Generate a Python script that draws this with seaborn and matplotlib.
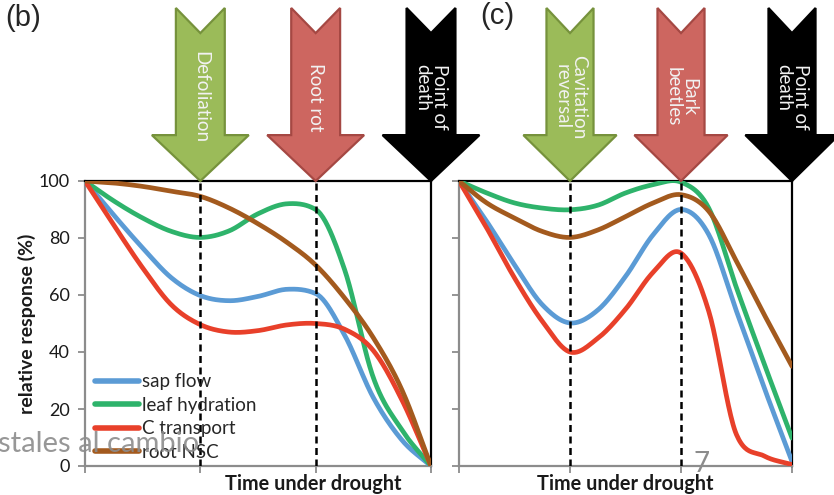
import numpy as np
import pandas as pd
import matplotlib
matplotlib.use("Agg")
import matplotlib.pyplot as plt
from matplotlib.patches import Polygon
import seaborn as sns

# ---- data -------------------------------------------------------------
time_steps = [0, 0.25, 0.5, 0.75, 1.0, 1.25, 1.5, 1.75, 2.0, 2.25, 2.5, 2.75, 3.0]
series_names = ["sap flow", "leaf hydration", "C transport", "root NSC"]

# panel (b): defoliation, then root rot
b_sap_flow = [100, 88, 76.5, 66, 59.8, 58, 59.5, 62, 60.5, 46, 24, 9, 0]
b_leaf_hydration = [100, 93, 87, 82.3, 80.2, 82.5, 88.5, 92, 90, 69, 31, 12.5, 0]
b_c_transport = [100, 84.5, 69.5, 56.5, 49.6, 47, 47.5, 49.5, 50, 48, 40.5, 23, 0]
b_root_nsc = [100, 99.3, 98.1, 96.4, 94.6, 90.5, 85, 78.5, 70.5, 59, 45, 26.5, 0]

# panel (c): cavitation reversal, then bark beetles
c_sap_flow = [100, 85.8, 70.6, 56.6, 50.2, 54.7, 66.5, 81.2, 90, 81.2, 54.3, 27.4, 1.6]
c_leaf_hydration = [100, 95.8, 92.3, 90.5, 89.9, 91.5, 95.8, 98.7, 99.6, 90.5, 62.5, 35.8, 9.8]
c_c_transport = [100, 83.5, 66, 50.8, 40, 44.8, 55, 68, 74.7, 54.3, 11, 3.5, 0.5]
c_root_nsc = [100, 92.3, 87, 82.3, 80.2, 82.8, 87.5, 92.3, 95.2, 89.4, 71.8, 53.1, 35]

y_ticks = [0, 20, 40, 60, 80, 100]
event_times = [1, 2, 3]
b_events = ["Defoliation", "Root rot", "Point of\ndeath"]
c_events = ["Cavitation\nreversal", "Bark\nbeetles", "Point of\ndeath"]

palette = {"sap flow": "#5B9BD5", "leaf hydration": "#2EB36B",
           "C transport": "#E8402A", "root NSC": "#A35A1E"}
event_styles = [("#9BBB59", "#76923C"), ("#CD6660", "#A54843"), ("#000000", "#000000")]


def smooth_line(x, y, per_seg=24):
    """Catmull-Rom smoothed line, tangents limited on monotone stretches."""
    x = np.asarray(x, float)
    y = np.asarray(y, float)
    h = np.diff(x)
    d = np.diff(y) / h
    m = np.empty_like(y)
    m[0], m[-1] = d[0], d[-1]
    for k in range(1, len(y) - 1):
        m[k] = (y[k + 1] - y[k - 1]) / (x[k + 1] - x[k - 1])
        if d[k - 1] * d[k] > 0:
            lim = 3 * min(abs(d[k - 1]), abs(d[k]))
            m[k] = np.sign(m[k]) * min(abs(m[k]), lim)
    s = np.linspace(0, 1, per_seg, endpoint=False)
    h00 = 2 * s**3 - 3 * s**2 + 1
    h10 = s**3 - 2 * s**2 + s
    h01 = -2 * s**3 + 3 * s**2
    h11 = s**3 - s**2
    xs, ys = [], []
    for k in range(len(x) - 1):
        xs.append(x[k] + s * h[k])
        ys.append(h00 * y[k] + h10 * h[k] * m[k] + h01 * y[k + 1] + h11 * h[k] * m[k + 1])
    xs.append([x[-1]])
    ys.append([y[-1]])
    return np.concatenate(xs), np.concatenate(ys)


def panel_frame(values):
    rows = []
    for name, vals in zip(series_names, values):
        xs, ys = smooth_line(time_steps, vals)
        rows.append(pd.DataFrame({"time": xs, "response": ys, "series": name}))
    return pd.concat(rows, ignore_index=True)


df_b = panel_frame([b_sap_flow, b_leaf_hydration, b_c_transport, b_root_nsc])
df_c = panel_frame([c_sap_flow, c_leaf_hydration, c_c_transport, c_root_nsc])

# ---- figure -----------------------------------------------------------
sns.set_style("white")
plt.rcParams["font.family"] = ["Lato", "DejaVu Sans"]

fig = plt.figure(figsize=(8.34, 4.95), dpi=100)
ax_b = fig.add_axes([85 / 834, 1 - 466 / 495, 346 / 834, 285 / 495])
ax_c = fig.add_axes([459 / 834, 1 - 466 / 495, 333 / 834, 285 / 495])

for ax, df, events, show_legend in ((ax_b, df_b, b_events, True),
                                    (ax_c, df_c, c_events, False)):
    sns.lineplot(data=df, x="time", y="response", hue="series",
                 hue_order=series_names, palette=palette, estimator=None,
                 sort=False, linewidth=3.4, ax=ax, legend=show_legend,
                 zorder=3)
    for line in ax.get_lines():
        line.set_solid_capstyle("round")

    ax.set_xlim(0, 3)
    ax.set_ylim(0, 100)
    ax.set_xticks([0, 1, 2, 3])
    ax.set_xticklabels([])
    ax.set_yticks(y_ticks)
    ax.set_xlabel("")
    ax.set_ylabel("")
    ax.tick_params(axis="both", bottom=True, left=True, direction="out",
                   length=5, width=1.3, color="#8c8c8c", labelsize=13,
                   labelcolor="#1a1a1a", pad=6)
    for side in ("top", "right"):
        ax.spines[side].set_color("black")
        ax.spines[side].set_linewidth(1.6)
    for side in ("left", "bottom"):
        ax.spines[side].set_color("#8c8c8c")
        ax.spines[side].set_linewidth(1.6)

    # dashed markers under the first two events
    ax.vlines(event_times[:2], 0, 100, colors="black", linewidth=1.8,
              linestyles=(0, (2.8, 1.8)), zorder=4)

    # block arrows pointing down at each event
    for t0, label, (face, edge) in zip(event_times, events, event_styles):
        ws, wh = 0.212, 0.42
        top, notch, base, tip = 160.7, 151.9, 116.1, 100
        verts = [(t0 - ws, top), (t0, notch), (t0 + ws, top), (t0 + ws, base),
                 (t0 + wh, base), (t0, tip), (t0 - wh, base), (t0 - ws, base)]
        ax.add_patch(Polygon(verts, closed=True, facecolor=face,
                             edgecolor=edge, linewidth=1.6, clip_on=False,
                             zorder=6, joinstyle="miter"))
        align = "left" if label.startswith("Point") else "center"
        ax.text(t0, 129.5, label, rotation=-90, ha="center", va="center",
                multialignment=align, color="#F2F2F2", fontsize=13.5,
                linespacing=0.95, clip_on=False, zorder=7)

ax_c.set_yticklabels([])

ax_b.text(-0.168, 0.5, "relative response (%)", transform=ax_b.transAxes,
          rotation=90, ha="center", va="center", fontsize=14,
          fontweight="bold", color="#1a1a1a")
ax_b.text(0.659, -0.063, "Time under drought", transform=ax_b.transAxes,
          ha="center", va="center", fontsize=14.3, fontweight="bold",
          color="#1a1a1a")
ax_c.text(0.4985, -0.063, "Time under drought", transform=ax_c.transAxes,
          ha="center", va="center", fontsize=14.3, fontweight="bold",
          color="#1a1a1a")

handles, labels = ax_b.get_legend_handles_labels()
ax_b.legend(handles, labels, loc="lower left", bbox_to_anchor=(0.03, 0.019),
            frameon=False, fontsize=13.5, handlelength=2.35,
            handletextpad=0.15, labelspacing=0.34, borderpad=0,
            borderaxespad=0)
for h in ax_b.get_legend().legend_handles:
    h.set_linewidth(4)

fig.text(5 / 834, 1 - 4 / 495, "(b)", ha="left", va="top", fontsize=21,
         family=["Liberation Sans", "DejaVu Sans"])
fig.text(480 / 834, 1 - 2 / 495, "(c)", ha="left", va="top", fontsize=21,
         family=["Liberation Sans", "DejaVu Sans"])

# slide footer text
fig.text(-2 / 834, 1 - 452 / 495, "stales al cambio", ha="left",
         va="baseline", fontsize=21, color="#8c8c8c", alpha=0.9)
fig.text(702 / 834, 1 - 472 / 495, "7", ha="center", va="baseline",
         fontsize=20, color="#8c8c8c")

fig.savefig("out.png", dpi=100)
